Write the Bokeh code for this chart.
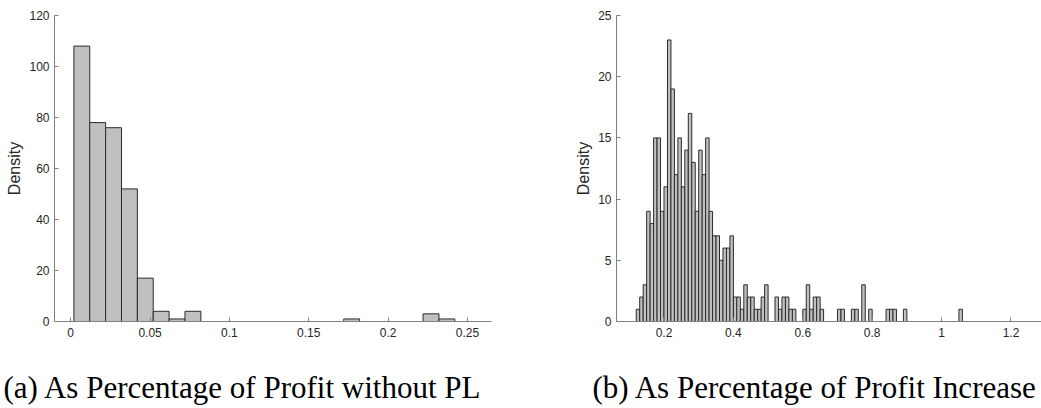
from bokeh.plotting import figure
from bokeh.layouts import row, column
from bokeh.models import FixedTicker, PrintfTickFormatter, Label, ColumnDataSource, Range1d
from bokeh.embed import file_html
from bokeh.resources import INLINE

# ---------------- data ----------------
left_bin_start = 0.002
left_bin_width = 0.01
left_density = [108, 78, 76, 52, 17, 4, 1, 4,
                0, 0, 0, 0, 0, 0, 0, 0, 0,
                1,
                0, 0, 0, 0,
                3, 1]
left_xticks = [0, 0.05, 0.1, 0.15, 0.2, 0.25]
left_yticks = [0, 20, 40, 60, 80, 100, 120]

right_bin_start = 0.12
right_bin_width = 0.01
right_density = [1, 2, 3, 9, 8, 15, 15, 9,            # 0.12 - 0.19
                 11, 23, 19, 12, 15, 11, 14, 17, 13, 9,  # 0.20 - 0.29
                 14, 12, 15, 9, 7, 7, 5, 6, 6, 7,       # 0.30 - 0.39
                 2, 2, 1, 3, 2, 2, 1, 1, 2, 3,          # 0.40 - 0.49
                 0, 0, 2, 1, 2, 2, 1, 1, 0, 0,          # 0.50 - 0.59
                 1, 3, 1, 2, 2, 1, 0, 0, 0, 0,          # 0.60 - 0.69
                 1, 1, 0, 0, 1, 1, 0, 3, 0, 1,          # 0.70 - 0.79
                 0, 0, 0, 0, 1, 1, 1, 0, 0, 1,          # 0.80 - 0.89
                 0, 0, 0, 0, 0, 0, 0, 0, 0, 0,          # 0.90 - 0.99
                 0, 0, 0, 0, 0, 1]                      # 1.00 - 1.05
right_xticks = [0.2, 0.4, 0.6, 0.8, 1.0, 1.2]
right_yticks = [0, 5, 10, 15, 20, 25]

y_label = "Density"
caption_a = "(a) As Percentage of Profit without PL"
caption_b = "(b) As Percentage of Profit Increase"

FILL = "#c0c0c0"
EDGE = "#2b2b2b"
AXIS = "#808080"
TEXT = "#262626"
SANS = "Liberation Sans"
SERIF = "Liberation Serif"


def hist_source(start, width, vals):
    left, right, top = [], [], []
    for i, v in enumerate(vals):
        if v > 0:
            left.append(start + i * width)
            right.append(start + (i + 1) * width)
            top.append(v)
    return ColumnDataSource(dict(left=left, right=right, top=top, bottom=[0] * len(top)))


def style(p, xticks, yticks):
    p.grid.visible = False
    p.outline_line_color = None
    p.background_fill_color = "white"
    p.border_fill_color = "white"
    for ax in (p.xaxis[0], p.yaxis[0]):
        ax.axis_line_color = AXIS
        ax.axis_line_width = 1
        ax.major_tick_line_color = AXIS
        ax.major_tick_in = 4
        ax.major_tick_out = 0
        ax.minor_tick_line_color = None
        ax.major_label_text_font = SANS
        ax.major_label_text_font_size = "12px"
        ax.major_label_text_color = TEXT
        ax.formatter = PrintfTickFormatter(format="%g")
    p.xaxis[0].ticker = FixedTicker(ticks=xticks)
    p.yaxis[0].ticker = FixedTicker(ticks=yticks)
    p.xaxis[0].major_label_standoff = 6
    p.yaxis[0].major_label_standoff = 5
    p.yaxis[0].axis_label = y_label
    p.yaxis[0].axis_label_text_font = SANS
    p.yaxis[0].axis_label_text_font_size = "16px"
    p.yaxis[0].axis_label_text_font_style = "normal"
    p.yaxis[0].axis_label_text_color = TEXT
    p.yaxis[0].axis_label_standoff = 3


PH = 351

# ---------------- left panel ----------------
p1 = figure(width=552, height=PH, output_backend="svg", toolbar_location=None,
            x_range=Range1d(-0.0102, 0.2651), y_range=Range1d(0, 120),
            min_border_left=54, min_border_right=61, min_border_top=15, min_border_bottom=30)
p1.quad(left="left", right="right", top="top", bottom="bottom",
        source=hist_source(left_bin_start, left_bin_width, left_density),
        fill_color=FILL, line_color=EDGE, line_width=1)
style(p1, left_xticks, left_yticks)

# ---------------- right panel ----------------
p2 = figure(width=489, height=PH, output_backend="svg", toolbar_location=None,
            x_range=Range1d(0.0631, 1.288), y_range=Range1d(0, 25),
            min_border_left=64, min_border_right=0, min_border_top=15, min_border_bottom=30)
p2.quad(left="left", right="right", top="top", bottom="bottom",
        source=hist_source(right_bin_start, right_bin_width, right_density),
        fill_color=FILL, line_color=EDGE, line_width=1)
style(p2, right_xticks, right_yticks)

# ---------------- captions ----------------
cap = figure(width=1041, height=57, output_backend="svg", toolbar_location=None,
             x_range=Range1d(0, 1), y_range=Range1d(0, 1),
             x_axis_type=None, y_axis_type=None,
             min_border_left=0, min_border_right=0, min_border_top=0, min_border_bottom=0)
cap.grid.visible = False
cap.outline_line_color = None
cap.add_layout(Label(x=3, y=21, x_units="screen", y_units="screen", text=caption_a,
                     text_font=SERIF, text_font_size="31px", text_color="black",
                     text_baseline="alphabetic", text_align="left"))
cap.add_layout(Label(x=592, y=21, x_units="screen", y_units="screen", text=caption_b,
                     text_font=SERIF, text_font_size="31px", text_color="black",
                     text_baseline="alphabetic", text_align="left"))

layout = column(row(p1, p2), cap)
open("out.html", "w").write(file_html(layout, INLINE))
